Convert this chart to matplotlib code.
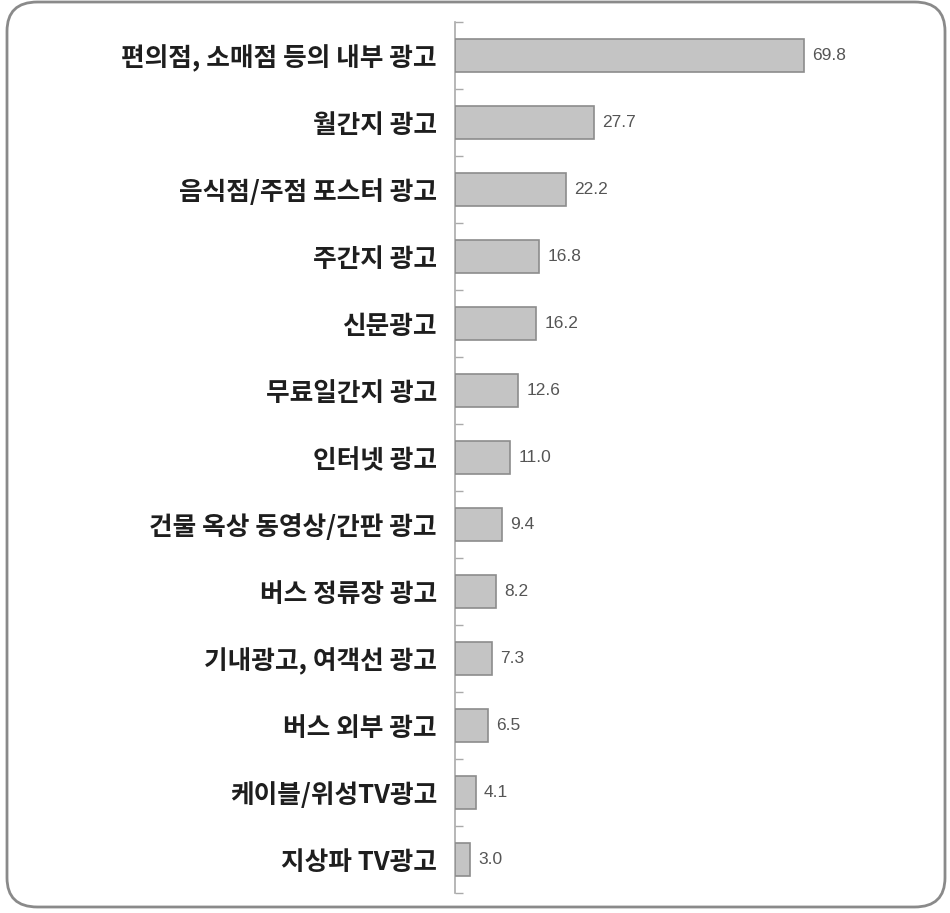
import matplotlib
matplotlib.use("Agg")
import matplotlib.pyplot as plt
from matplotlib.patches import FancyBboxPatch

categories = [
    "편의점, 소매점 등의 내부 광고",
    "월간지 광고",
    "음식점/주점 포스터 광고",
    "주간지 광고",
    "신문광고",
    "무료일간지 광고",
    "인터넷 광고",
    "건물 옥상 동영상/간판 광고",
    "버스 정류장 광고",
    "기내광고, 여객선 광고",
    "버스 외부 광고",
    "케이블/위성TV광고",
    "지상파 TV광고",
]
values = [69.8, 27.7, 22.2, 16.8, 16.2, 12.6, 11.0, 9.4, 8.2, 7.3, 6.5, 4.1, 3.0]
value_labels = ["69.8", "27.7", "22.2", "16.8", "16.2", "12.6", "11.0",
                "9.4", "8.2", "7.3", "6.5", "4.1", "3.0"]

W, H = 950, 913
fig = plt.figure(figsize=(W / 100, H / 100), dpi=100)
fig.patch.set_facecolor("white")

# rounded outer frame
frame = FancyBboxPatch((7 / W, 6 / H), (945 - 7) / W, (911 - 6) / H,
                       boxstyle="round,pad=0,rounding_size=0.032",
                       transform=fig.transFigure, facecolor="none",
                       edgecolor="#8a8a8a", linewidth=2.0, zorder=-1)
fig.patches.append(frame)

ax_left, ax_right = 455 / W, 935 / W
ax_top, ax_bottom = 1 - 22 / H, 1 - 893 / H
ax = fig.add_axes([ax_left, ax_bottom, ax_right - ax_left, ax_top - ax_bottom])
ax.set_facecolor("none")

n = len(categories)
pos = list(range(n))
ax.barh(pos, values, height=0.48, color="#c4c4c4", edgecolor="#8c8c8c",
        linewidth=1.2, zorder=3)
ax.set_ylim(n - 0.5, -0.5)
ax.set_xlim(0, 96)

for p, v, lab in zip(pos, values, value_labels):
    ax.text(v + 1.7, p, lab, va="center", ha="left", fontsize=12.5,
            color="#555555", family=["Liberation Sans", "DejaVu Sans"])

ax.set_yticks(pos)
ax.set_yticklabels(categories, fontsize=18.5, fontweight="heavy",
                   family=["Noto Sans CJK KR", "DejaVu Sans"], color="#1e1e1e")
ax.tick_params(axis="y", which="major", length=0, pad=13)
ax.set_yticks([i - 0.5 for i in range(n + 1)], minor=True)
ax.tick_params(axis="y", which="minor", direction="in", length=6,
               color="#aaaaaa", width=1)
ax.set_xticks([])
for s in ("top", "right", "bottom"):
    ax.spines[s].set_visible(False)
ax.spines["left"].set_color("#aaaaaa")
ax.spines["left"].set_linewidth(1.2)

fig.savefig("out.png", dpi=100, facecolor="white")
